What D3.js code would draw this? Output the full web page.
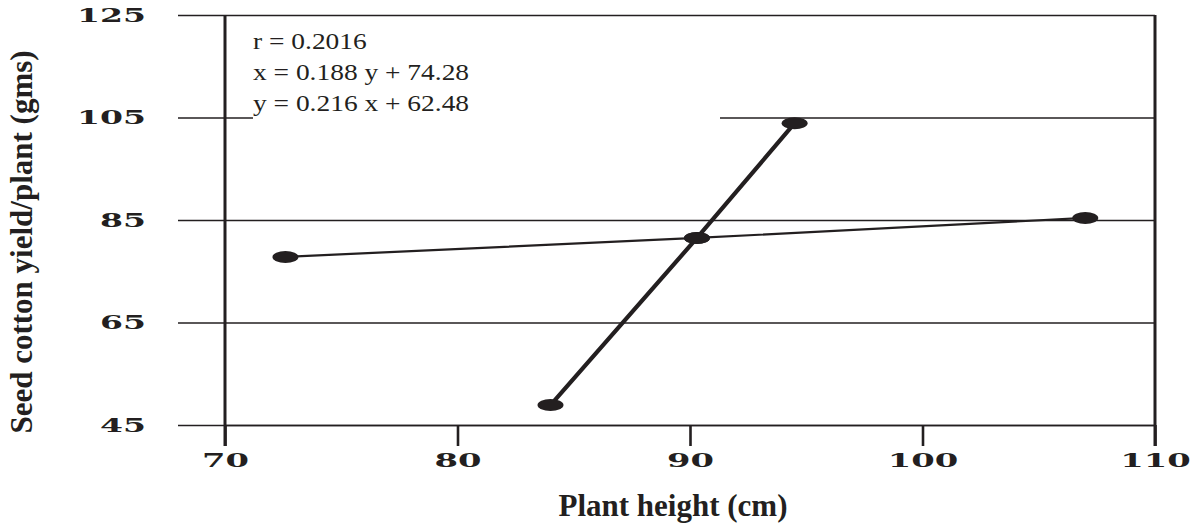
<!DOCTYPE html>
<html>
<head>
<meta charset="utf-8">
<script src="https://cdn.jsdelivr.net/npm/d3@7.9.0/dist/d3.min.js"></script>
<style>
  html, body { margin: 0; padding: 0; background: #fff; }
  svg { display: block; }
  .tick-label { font-family: 'DejaVu Serif', serif; font-weight: bold; font-size: 18px; fill: #231f20; }
  .title { font-family: 'Liberation Serif', 'Times New Roman', serif; font-weight: bold; font-size: 31px; fill: #231f20; }
  .stats { font-family: 'Liberation Serif', 'Times New Roman', serif; font-size: 22.5px; fill: #231f20; }
</style>
</head>
<body>
<div id="chart"></div>
<script>
// Data
const xTicks = [70, 80, 90, 100, 110];
const yTicks = [45, 65, 85, 105, 125];

// thin line (three plotted means)
const thinX = [72.6, 90.3, 107.0];
const thinY = [77.8, 81.5, 85.4];

// thick line
const thickX = [84.0, 90.3, 94.5];
const thickY = [48.9, 81.5, 103.9];

const statLines = ['r = 0.2016', 'x = 0.188 y + 74.28', 'y = 0.216 x + 62.48'];

const xTitle = 'Plant height (cm)';
const yTitle = 'Seed cotton yield/plant (gms)';

const ink = '#231f20';

function renderChart() {
  const width = 1203;
  const height = 531;
  const plot = { left: 225, right: 1155, top: 15, bottom: 425 };

  const svg = d3.select('#chart')
    .append('svg')
    .attr('width', width)
    .attr('height', height);

  const xScale = d3.scaleLinear().domain([70, 110]).range([plot.left, plot.right]);
  const yScale = d3.scaleLinear().domain([45, 125]).range([plot.bottom, plot.top]);

  // Horizontal gridlines with the outer tick stubs left of the axis
  const gridStart = 178;
  const yAxis = svg.append('g')
    .attr('transform', `translate(${gridStart},0)`)
    .call(d3.axisLeft(yScale)
      .tickValues(yTicks)
      .tickSize(-(plot.right - gridStart))
      .tickPadding(32)
      .tickFormat(d3.format('d')));
  yAxis.select('.domain').remove();
  yAxis.selectAll('.tick line').attr('stroke', ink).attr('stroke-width', 1.7);
  yAxis.selectAll('.tick text')
    .attr('class', 'tick-label')
    .attr('dy', '0.36em')
    .attr('textLength', (d) => String(d).length * 23)
    .attr('lengthAdjust', 'spacingAndGlyphs');

  // X axis
  const xAxis = svg.append('g')
    .attr('transform', `translate(0,${plot.bottom})`)
    .call(d3.axisBottom(xScale)
      .tickValues(xTicks)
      .tickSize(21)
      .tickSizeOuter(0)
      .tickPadding(8)
      .tickFormat(d3.format('d')));
  xAxis.select('.domain').attr('stroke', ink).attr('stroke-width', 1.7);
  xAxis.selectAll('.tick line').attr('stroke', ink).attr('stroke-width', 2.6);
  xAxis.selectAll('.tick text')
    .attr('class', 'tick-label')
    .attr('textLength', (d) => String(d).length * 23.5)
    .attr('lengthAdjust', 'spacingAndGlyphs');

  // White panel behind the statistics text
  svg.append('rect')
    .attr('x', 253)
    .attr('y', 22)
    .attr('width', 720 - 253)
    .attr('height', 100)
    .attr('fill', '#fff');

  // Left and right frame lines
  svg.append('g')
    .selectAll('line')
    .data([70, 110])
    .join('line')
    .attr('x1', (d) => xScale(d))
    .attr('x2', (d) => xScale(d))
    .attr('y1', plot.top)
    .attr('y2', plot.bottom + 21)
    .attr('stroke', ink)
    .attr('stroke-width', 3);

  // Statistics text, horizontally stretched like the original
  const stats = svg.append('g')
    .attr('transform', 'translate(253,0) scale(1.22,1)');
  stats.selectAll('text')
    .data(statLines)
    .join('text')
    .attr('class', 'stats')
    .attr('x', 0)
    .attr('y', (d, i) => 49 + i * 31)
    .text((d) => d);

  // Lines
  const line = d3.line().x((d) => xScale(d[0])).y((d) => yScale(d[1]));
  const series = [
    { pts: d3.zip(thinX, thinY), w: 2.2 },
    { pts: d3.zip(thickX, thickY), w: 4.2 },
  ];

  svg.append('g')
    .selectAll('path')
    .data(series)
    .join('path')
    .attr('d', (d) => line(d.pts))
    .attr('fill', 'none')
    .attr('stroke', ink)
    .attr('stroke-width', (d) => d.w);

  // Markers
  const pts = series.flatMap((d) => d.pts);
  svg.append('g')
    .selectAll('ellipse')
    .data(pts)
    .join('ellipse')
    .attr('cx', (d) => xScale(d[0]))
    .attr('cy', (d) => yScale(d[1]))
    .attr('rx', 13)
    .attr('ry', 6)
    .attr('fill', ink);

  // Axis titles
  svg.append('text')
    .attr('class', 'title')
    .attr('x', 673)
    .attr('y', 516)
    .attr('text-anchor', 'middle')
    .text(xTitle);

  svg.append('text')
    .attr('class', 'title')
    .attr('transform', 'translate(32,242) rotate(-90)')
    .attr('text-anchor', 'middle')
    .text(yTitle);
}

renderChart();
</script>
</body>
</html>
